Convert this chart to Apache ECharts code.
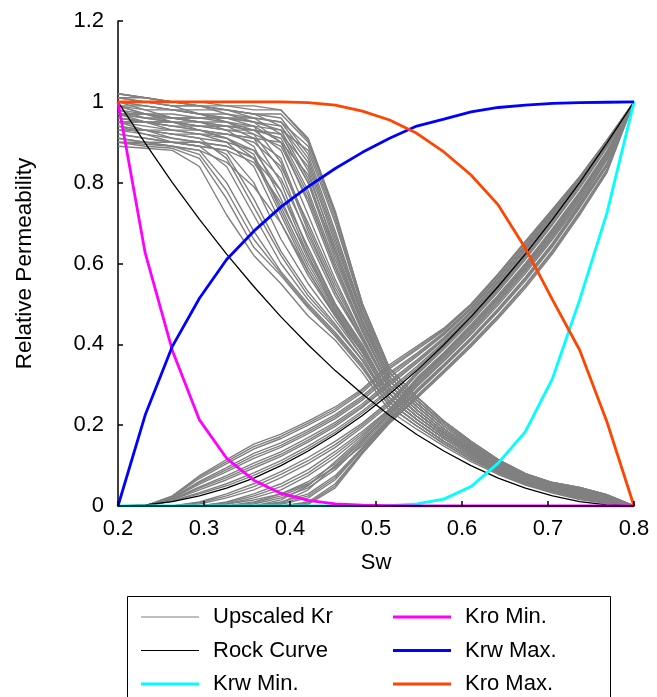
<!DOCTYPE html>
<html>
<head>
<meta charset="utf-8">
<script src="https://cdn.jsdelivr.net/npm/echarts@6/dist/echarts.min.js"></script>
<style>html,body{margin:0;padding:0;background:#fff}#c{width:657px;height:697px}</style>
</head>
<body>
<div id="c"></div>
<script>
// Water saturation grid (20 points)
const sw = [0.2000,0.2316,0.2632,0.2947,0.3263,0.3579,0.3895,0.4211,0.4526,0.4842,0.5158,0.5474,0.5789,0.6105,0.6421,0.6737,0.7053,0.7368,0.7684,0.8000];
const xTicks = [0.2,0.3,0.4,0.5,0.6,0.7,0.8];
const yTicks = [0,0.2,0.4,0.6,0.8,1,1.2];

const kroMin = [1,0.626,0.385,0.213,0.118,0.064,0.031,0.014,0.005,0.002,0.001,0,0,0,0,0,0,0,0,0];
const krwMin = [0,0,0,0,0,0,0,0,0,0,0.001,0.005,0.017,0.048,0.106,0.184,0.316,0.51,0.724,1];
const kroMax = [1,1,1,1,1,1,1,0.998,0.992,0.977,0.955,0.922,0.876,0.819,0.745,0.638,0.51,0.386,0.209,0];
const krwMax = [0,0.225,0.395,0.514,0.61,0.68,0.74,0.79,0.835,0.875,0.91,0.94,0.957,0.975,0.986,0.992,0.996,0.998,0.999,1];
const rockKro = [1,0.898,0.8,0.709,0.623,0.543,0.468,0.399,0.335,0.277,0.224,0.177,0.136,0.1,0.069,0.044,0.025,0.011,0.003,0];
const rockKrw = [0,0.003,0.011,0.025,0.044,0.069,0.1,0.136,0.177,0.224,0.277,0.335,0.399,0.468,0.543,0.623,0.709,0.8,0.898,1];

// Upscaled oil relative permeability curves
const upKro = [
[0.89,0.885,0.88,0.84,0.72,0.62,0.55,0.47,0.41,0.33,0.235,0.19,0.148,0.11,0.078,0.052,0.032,0.016,0.006,0],
[0.90,0.89,0.885,0.86,0.76,0.64,0.57,0.49,0.42,0.34,0.246,0.198,0.154,0.115,0.082,0.055,0.035,0.019,0.008,0],
[0.91,0.90,0.89,0.88,0.80,0.68,0.58,0.50,0.43,0.35,0.246,0.198,0.154,0.115,0.082,0.055,0.035,0.019,0.008,0],
[0.93,0.92,0.90,0.89,0.84,0.72,0.60,0.51,0.44,0.36,0.256,0.206,0.16,0.12,0.085,0.058,0.037,0.022,0.010,0],
[0.95,0.93,0.91,0.90,0.87,0.76,0.63,0.53,0.45,0.36,0.256,0.206,0.16,0.12,0.085,0.058,0.037,0.022,0.010,0],
[0.92,0.91,0.90,0.89,0.88,0.80,0.66,0.55,0.46,0.37,0.256,0.206,0.16,0.12,0.085,0.058,0.037,0.022,0.010,0],
[0.97,0.95,0.93,0.92,0.90,0.84,0.70,0.57,0.47,0.38,0.267,0.214,0.167,0.125,0.089,0.06,0.04,0.025,0.013,0],
[0.96,0.95,0.94,0.93,0.91,0.87,0.73,0.59,0.48,0.38,0.267,0.214,0.167,0.125,0.089,0.06,0.04,0.025,0.013,0],
[1.0,0.98,0.96,0.95,0.93,0.89,0.76,0.61,0.49,0.39,0.277,0.222,0.173,0.13,0.093,0.063,0.042,0.028,0.015,0],
[0.99,0.97,0.96,0.95,0.94,0.91,0.80,0.63,0.50,0.40,0.277,0.222,0.173,0.13,0.093,0.063,0.042,0.028,0.015,0],
[1.01,1.0,0.99,0.97,0.95,0.92,0.83,0.66,0.52,0.41,0.288,0.23,0.179,0.135,0.097,0.066,0.045,0.031,0.017,0],
[0.94,0.93,0.93,0.93,0.92,0.91,0.86,0.69,0.54,0.42,0.288,0.23,0.179,0.135,0.097,0.066,0.045,0.031,0.017,0],
[0.98,0.97,0.96,0.96,0.95,0.93,0.88,0.72,0.56,0.42,0.288,0.23,0.179,0.135,0.097,0.066,0.045,0.031,0.017,0],
[1.02,1.01,1.0,0.99,0.97,0.95,0.90,0.75,0.58,0.43,0.298,0.238,0.185,0.14,0.10,0.069,0.048,0.034,0.019,0],
[0.96,0.95,0.95,0.94,0.94,0.93,0.91,0.78,0.60,0.44,0.298,0.238,0.185,0.14,0.10,0.069,0.048,0.034,0.019,0],
[1.0,0.99,0.98,0.97,0.96,0.95,0.93,0.81,0.62,0.45,0.309,0.246,0.191,0.145,0.104,0.072,0.05,0.037,0.021,0],
[0.93,0.93,0.92,0.92,0.92,0.91,0.90,0.82,0.64,0.46,0.319,0.254,0.198,0.15,0.108,0.074,0.053,0.04,0.024,0],
[0.97,0.97,0.96,0.96,0.96,0.95,0.94,0.85,0.66,0.47,0.319,0.254,0.198,0.15,0.108,0.074,0.053,0.04,0.024,0],
[1.01,1.0,0.99,0.99,0.98,0.97,0.96,0.87,0.68,0.48,0.33,0.262,0.204,0.155,0.111,0.077,0.055,0.043,0.026,0],
[0.95,0.95,0.95,0.94,0.94,0.94,0.93,0.88,0.70,0.49,0.33,0.262,0.204,0.155,0.111,0.077,0.055,0.043,0.026,0],
[0.99,0.99,0.98,0.98,0.98,0.97,0.97,0.90,0.72,0.50,0.34,0.27,0.21,0.16,0.115,0.08,0.058,0.046,0.028,0],
[1.0,1.0,0.99,0.99,0.99,0.99,0.98,0.91,0.73,0.50,0.34,0.27,0.21,0.16,0.115,0.08,0.058,0.046,0.028,0],
[0.92,0.91,0.90,0.90,0.89,0.86,0.78,0.64,0.50,0.39,0.277,0.222,0.173,0.13,0.093,0.063,0.042,0.028,0.015,0],
[0.95,0.94,0.93,0.92,0.91,0.88,0.81,0.67,0.53,0.41,0.288,0.23,0.179,0.135,0.097,0.066,0.045,0.031,0.017,0],
[0.98,0.96,0.95,0.94,0.93,0.92,0.89,0.76,0.59,0.44,0.298,0.238,0.185,0.14,0.10,0.069,0.048,0.034,0.019,0],
[0.91,0.90,0.90,0.89,0.88,0.85,0.75,0.62,0.48,0.38,0.267,0.214,0.167,0.125,0.089,0.06,0.04,0.025,0.013,0],
[0.97,0.96,0.95,0.95,0.94,0.93,0.92,0.84,0.65,0.47,0.319,0.254,0.198,0.15,0.108,0.074,0.053,0.04,0.024,0],
[1.02,1.01,1.0,0.99,0.98,0.96,0.92,0.80,0.61,0.45,0.309,0.246,0.191,0.145,0.104,0.072,0.05,0.037,0.021,0],
[0.90,0.90,0.89,0.87,0.78,0.66,0.575,0.495,0.425,0.345,0.246,0.198,0.154,0.115,0.082,0.055,0.035,0.019,0.008,0],
[0.94,0.93,0.92,0.91,0.86,0.74,0.62,0.52,0.445,0.36,0.256,0.206,0.16,0.12,0.085,0.058,0.037,0.022,0.010,0],
[0.99,0.97,0.95,0.93,0.91,0.86,0.72,0.58,0.475,0.38,0.267,0.214,0.167,0.125,0.089,0.06,0.04,0.025,0.013,0],
[0.93,0.93,0.92,0.91,0.90,0.88,0.78,0.62,0.495,0.395,0.277,0.222,0.173,0.13,0.093,0.063,0.042,0.028,0.015,0],
[1.0,0.99,0.98,0.97,0.96,0.94,0.85,0.68,0.53,0.415,0.288,0.23,0.179,0.135,0.097,0.066,0.045,0.031,0.017,0],
[0.97,0.96,0.96,0.95,0.95,0.94,0.90,0.77,0.59,0.435,0.298,0.238,0.185,0.14,0.10,0.069,0.048,0.034,0.019,0],
[0.95,0.95,0.94,0.94,0.93,0.93,0.92,0.80,0.63,0.455,0.309,0.246,0.191,0.145,0.104,0.072,0.05,0.037,0.021,0],
[0.99,0.98,0.98,0.97,0.97,0.96,0.95,0.86,0.67,0.475,0.319,0.254,0.198,0.15,0.108,0.074,0.053,0.04,0.024,0],
[0.97,0.97,0.97,0.96,0.96,0.96,0.95,0.89,0.71,0.49,0.33,0.262,0.204,0.155,0.111,0.077,0.055,0.043,0.026,0],
[1.01,1.01,1.0,1.0,0.99,0.98,0.98,0.905,0.725,0.50,0.34,0.27,0.21,0.16,0.115,0.08,0.058,0.046,0.028,0],
[0.96,0.95,0.94,0.93,0.92,0.90,0.84,0.70,0.55,0.42,0.288,0.23,0.179,0.135,0.097,0.066,0.045,0.031,0.017,0],
[0.94,0.92,0.91,0.90,0.89,0.86,0.74,0.60,0.485,0.385,0.267,0.214,0.167,0.125,0.089,0.06,0.04,0.025,0.013,0],
[1.02,1.01,1.0,0.99,0.98,0.97,0.94,0.83,0.63,0.455,0.309,0.246,0.191,0.145,0.104,0.072,0.05,0.037,0.021,0],
[0.90,0.895,0.89,0.88,0.85,0.79,0.70,0.58,0.47,0.37,0.256,0.206,0.16,0.12,0.085,0.058,0.037,0.022,0.010,0]
];

// Upscaled water relative permeability curves
const upKrw = [
[0,0,0.025,0.075,0.115,0.153,0.178,0.21,0.245,0.29,0.35,0.395,0.44,0.50,0.575,0.655,0.735,0.815,0.905,1],
[0,0,0.023,0.068,0.105,0.141,0.167,0.20,0.235,0.281,0.34,0.387,0.434,0.496,0.571,0.651,0.731,0.813,0.904,1],
[0,0,0.021,0.061,0.095,0.13,0.156,0.189,0.226,0.272,0.33,0.378,0.429,0.491,0.566,0.646,0.728,0.811,0.903,1],
[0,0,0.019,0.054,0.085,0.118,0.145,0.179,0.216,0.262,0.319,0.37,0.423,0.487,0.562,0.642,0.724,0.809,0.902,1],
[0,0,0.017,0.047,0.075,0.106,0.134,0.169,0.207,0.253,0.309,0.361,0.417,0.482,0.557,0.637,0.72,0.807,0.901,1],
[0,0,0.015,0.04,0.065,0.094,0.123,0.158,0.197,0.244,0.299,0.353,0.411,0.478,0.553,0.633,0.717,0.805,0.90,1],
[0,0,0.013,0.033,0.055,0.082,0.112,0.148,0.188,0.235,0.289,0.345,0.406,0.473,0.548,0.628,0.713,0.802,0.899,1],
[0,0,0,0.01,0.03,0.055,0.085,0.12,0.16,0.205,0.26,0.331,0.395,0.464,0.539,0.619,0.705,0.796,0.894,1],
[0,0,0,0.005,0.02,0.04,0.07,0.105,0.145,0.195,0.25,0.324,0.388,0.456,0.53,0.61,0.696,0.786,0.886,1],
[0,0,0,0,0.01,0.03,0.055,0.09,0.135,0.185,0.24,0.317,0.38,0.449,0.522,0.601,0.687,0.777,0.878,1],
[0,0,0,0,0.005,0.02,0.04,0.075,0.12,0.175,0.235,0.309,0.373,0.441,0.514,0.592,0.678,0.768,0.871,1],
[0,0,0,0,0,0.01,0.03,0.06,0.105,0.165,0.23,0.302,0.366,0.433,0.506,0.584,0.669,0.759,0.863,1],
[0,0,0,0,0,0.005,0.02,0.045,0.09,0.155,0.22,0.295,0.358,0.425,0.497,0.575,0.66,0.75,0.855,1],
[0,0,0,0,0,0,0.01,0.03,0.075,0.145,0.215,0.288,0.351,0.417,0.489,0.566,0.651,0.747,0.847,1],
[0,0,0,0,0,0,0.004,0.02,0.065,0.14,0.21,0.28,0.344,0.41,0.481,0.557,0.642,0.738,0.84,1],
[0,0,0,0,0,0,0,0.01,0.055,0.135,0.208,0.273,0.336,0.402,0.472,0.548,0.633,0.729,0.832,1],
[0,0,0,0,0,0,0,0.004,0.045,0.13,0.205,0.266,0.329,0.394,0.464,0.539,0.624,0.72,0.824,1],
[0,0,0,0,0,0,0.008,0.04,0.10,0.16,0.228,0.306,0.37,0.437,0.51,0.588,0.673,0.764,0.867,1],
[0,0,0,0,0.005,0.015,0.03,0.055,0.095,0.15,0.215,0.284,0.347,0.413,0.485,0.562,0.646,0.742,0.844,1],
[0,0,0.024,0.072,0.11,0.147,0.172,0.205,0.24,0.286,0.345,0.391,0.437,0.498,0.573,0.653,0.733,0.814,0.904,1],
[0,0,0.02,0.058,0.09,0.124,0.15,0.184,0.221,0.267,0.325,0.374,0.426,0.489,0.564,0.644,0.726,0.81,0.902,1],
[0,0,0.016,0.044,0.07,0.1,0.128,0.163,0.202,0.248,0.304,0.357,0.414,0.48,0.555,0.635,0.718,0.806,0.90,1],
[0,0,0.012,0.03,0.05,0.076,0.106,0.142,0.182,0.23,0.284,0.34,0.402,0.47,0.545,0.625,0.711,0.801,0.899,1],
[0,0,0,0.008,0.025,0.048,0.078,0.112,0.152,0.2,0.255,0.328,0.392,0.46,0.535,0.615,0.70,0.791,0.89,1],
[0,0,0,0,0.008,0.025,0.048,0.082,0.128,0.18,0.238,0.313,0.377,0.445,0.518,0.597,0.683,0.773,0.875,1],
[0,0,0,0,0,0.008,0.025,0.052,0.098,0.16,0.225,0.299,0.362,0.429,0.502,0.58,0.665,0.755,0.859,1],
[0,0,0,0,0,0,0.006,0.025,0.07,0.142,0.212,0.284,0.348,0.414,0.485,0.562,0.647,0.743,0.844,1],
[0,0,0,0,0,0,0,0.007,0.05,0.132,0.206,0.27,0.333,0.398,0.468,0.544,0.629,0.725,0.828,1],
[0,0,0,0,0,0,0.015,0.05,0.11,0.17,0.235,0.31,0.375,0.443,0.516,0.594,0.679,0.77,0.872,1]
];

const legendLeft = ['Upscaled Kr','Rock Curve','Krw Min.'];
const legendRight = ['Kro Min.','Krw Max.','Kro Max.'];

const FONT = "'Liberation Sans', Arial, sans-serif";
const THIN = 'path://M0 0H58V1H0Z';
const THICK = 'path://M0 0H58V3H0Z';
const pairs = v => sw.map((x, i) => [x, v[i]]);
const line = (name, vals, color, width) => ({
  name, type: 'line', data: pairs(vals), symbol: 'none', showSymbol: false,
  lineStyle: { color, width }, itemStyle: { color }, silent: true, animation: false
});

const series = [];
upKro.forEach(v => series.push(line('Upscaled Kr', v, '#808080', 1.4)));
upKrw.forEach(v => series.push(line('Upscaled Kr', v, '#808080', 1.4)));
series.push(line('Rock Curve', rockKro, '#000000', 1.3));
series.push(line('Rock Curve', rockKrw, '#000000', 1.3));
series.push(line('Krw Min.', krwMin, '#00FFFF', 2.8));
series.push(line('Kro Min.', kroMin, '#FF00FF', 2.8));
series.push(line('Krw Max.', krwMax, '#0000FF', 2.8));
series.push(line('Kro Max.', kroMax, '#FF4500', 2.8));

const thinNames = ['Upscaled Kr', 'Rock Curve'];
const legendItems = names => names.map(n => ({ name: n, icon: thinNames.includes(n) ? THIN : THICK }));

const legendCommon = {
  orient: 'vertical', top: 606, padding: 0, itemWidth: 58, itemHeight: 14, itemGap: 11.5,
  selectedMode: false, symbolKeepAspect: true,
  textStyle: { fontFamily: FONT, fontSize: 22, color: '#000', lineHeight: 22, padding: [0, 0, 0, 9] }
};

const chart = echarts.init(document.getElementById('c'), null, { renderer: 'canvas' });
chart.setOption({
  animation: false,
  backgroundColor: '#fff',
  textStyle: { fontFamily: FONT },
  grid: { left: 118, right: 23, top: 21, bottom: 191, containLabel: false },
  xAxis: {
    type: 'value', min: xTicks[0], max: xTicks[xTicks.length - 1], interval: 0.1, z: 5,
    name: 'Sw', nameLocation: 'middle', nameGap: 46,
    nameTextStyle: { fontFamily: FONT, fontSize: 22, color: '#000' },
    axisLine: { lineStyle: { color: '#000', width: 1.5 } },
    axisTick: { inside: true, length: 5, lineStyle: { color: '#000', width: 1.5 } },
    axisLabel: { fontFamily: FONT, fontSize: 22, color: '#000', margin: 12,
      formatter: v => xTicks.includes(Math.round(v * 10) / 10) ? String(Math.round(v * 10) / 10) : '' },
    splitLine: { show: false }
  },
  yAxis: {
    type: 'value', min: yTicks[0], max: yTicks[yTicks.length - 1], interval: 0.2,
    name: 'Relative Permeability', nameLocation: 'middle', nameGap: 82, nameRotate: 90,
    nameTextStyle: { fontFamily: FONT, fontSize: 22.5, color: '#000' },
    axisLine: { show: true, lineStyle: { color: '#000', width: 1.5 } },
    axisTick: { show: true, inside: true, length: 5, lineStyle: { color: '#000', width: 1.5 } },
    axisLabel: { fontFamily: FONT, fontSize: 22, color: '#000', margin: 14,
      formatter: v => String(Math.round(v * 10) / 10) },
    splitLine: { show: false }
  },
  legend: [
    Object.assign({}, legendCommon, { left: 141, data: legendItems(legendLeft) }),
    Object.assign({}, legendCommon, { left: 393, data: legendItems(legendRight) })
  ],
  graphic: [{
    type: 'rect', silent: true, z: 100,
    shape: { x: 127.5, y: 596.5, width: 483, height: 130 },
    style: { fill: 'none', stroke: '#000', lineWidth: 1 }
  }],
  series
});
</script>
</body>
</html>
